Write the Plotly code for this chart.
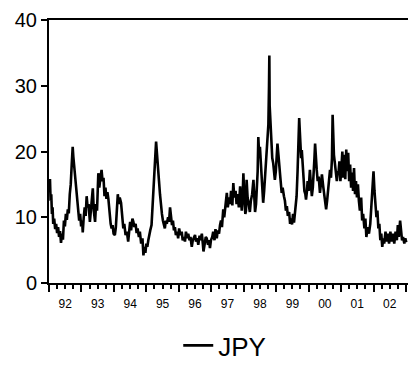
import plotly.graph_objects as go

series_name = "JPY"
year_labels = ["92", "93", "94", "95", "96", "97", "98", "99", "00", "01", "02"]
label_years = [1992.5 + i for i in range(11)]
year_bounds = [1992 + i for i in range(12)]
y_ticks = [0, 10, 20, 30, 40]

dates = [
1992.00,1992.02,1992.03,1992.05,1992.07,1992.09,1992.11,1992.13,1992.16,1992.19,1992.22,1992.25,1992.28,1992.31,1992.34,1992.37,1992.40,1992.43,1992.46,1992.49,
1992.52,1992.55,1992.58,1992.61,1992.64,1992.67,1992.70,1992.73,1992.75,1992.78,1992.81,1992.84,1992.87,1992.90,1992.93,1992.96,1992.99,
1993.02,1993.04,1993.07,1993.10,1993.13,1993.16,1993.19,1993.22,1993.26,1993.29,1993.32,1993.35,1993.38,1993.42,1993.45,1993.48,1993.52,1993.55,1993.58,1993.62,
1993.65,1993.68,1993.71,1993.74,1993.77,1993.80,1993.83,1993.86,1993.90,1993.93,1993.96,1993.99,
1994.03,1994.06,1994.09,1994.12,1994.15,1994.18,1994.22,1994.25,1994.29,1994.32,1994.36,1994.40,1994.44,1994.47,1994.50,1994.53,1994.57,1994.60,1994.63,1994.67,
1994.70,1994.73,1994.77,1994.80,1994.84,1994.88,1994.91,1994.94,1994.97,
1995.00,1995.03,1995.06,1995.09,1995.12,1995.16,1995.19,1995.22,1995.25,1995.28,1995.30,1995.33,1995.36,1995.39,1995.42,1995.45,1995.48,1995.51,1995.54,1995.57,
1995.60,1995.63,1995.67,1995.70,1995.73,1995.76,1995.79,1995.82,1995.85,1995.88,1995.91,1995.95,1995.98,
1996.01,1996.05,1996.09,1996.12,1996.16,1996.19,1996.22,1996.26,1996.29,1996.33,1996.36,1996.40,1996.43,1996.46,1996.50,1996.53,1996.57,1996.60,1996.64,1996.67,
1996.71,1996.74,1996.76,1996.80,1996.83,1996.86,1996.90,1996.93,1996.96,1996.99,
1997.03,1997.06,1997.10,1997.13,1997.17,1997.20,1997.24,1997.27,1997.30,1997.33,1997.37,1997.40,1997.44,1997.48,1997.51,1997.55,1997.58,1997.61,1997.65,1997.68,
1997.71,1997.75,1997.78,1997.81,1997.85,1997.89,1997.92,1997.94,1997.97,1997.99,
1998.02,1998.05,1998.07,1998.09,1998.12,1998.16,1998.19,1998.22,1998.26,1998.30,1998.33,1998.35,1998.38,1998.41,1998.43,1998.45,1998.48,1998.50,1998.53,1998.55,
1998.58,1998.60,1998.63,1998.66,1998.69,1998.71,1998.74,1998.76,1998.78,1998.79,1998.80,1998.82,1998.84,1998.86,1998.88,1998.91,1998.93,1998.96,1998.99,
1999.02,1999.04,1999.07,1999.10,1999.13,1999.17,1999.20,1999.24,1999.27,1999.30,1999.33,1999.36,1999.40,1999.43,1999.46,1999.49,1999.52,1999.55,1999.58,1999.61,
1999.63,1999.66,1999.68,1999.71,1999.73,1999.75,1999.77,1999.79,1999.82,1999.84,1999.87,1999.90,1999.92,1999.95,1999.97,
2000.00,2000.04,2000.07,2000.10,2000.13,2000.16,2000.18,2000.20,2000.23,2000.25,2000.28,2000.31,2000.35,2000.38,2000.41,2000.45,2000.48,2000.51,2000.54,2000.57,
2000.60,2000.63,2000.66,2000.69,2000.72,2000.74,2000.76,2000.78,2000.81,2000.84,2000.87,2000.90,2000.92,2000.95,2000.98,
2001.01,2001.04,2001.07,2001.10,2001.13,2001.16,2001.19,2001.22,2001.25,2001.28,2001.31,2001.34,2001.37,2001.40,2001.43,2001.46,2001.49,2001.52,2001.55,2001.58,
2001.62,2001.65,2001.68,2001.72,2001.75,2001.78,2001.82,2001.86,2001.90,2001.94,2001.97,
2002.00,2002.03,2002.06,2002.09,2002.12,2002.15,2002.18,2002.21,2002.24,2002.27,2002.30,2002.33,2002.37,2002.40,2002.44,2002.48,2002.52,2002.56,2002.60,2002.64,
2002.68,2002.72,2002.75,2002.78,2002.82,2002.85,2002.88,2002.91,2002.95,2002.98,2003.01,
]

jpy = [
15.5,13.8,15.8,12.5,13.5,10.5,11.5,9.0,9.8,8.2,9.0,7.6,8.5,7.0,7.9,6.1,7.5,6.6,9.5,8.6,
10.5,9.6,11.2,10.6,13.5,15.0,18.0,20.7,19.2,17.5,16.0,14.5,12.8,11.2,9.5,10.5,8.6,
9.5,7.7,10.0,11.5,10.2,13.2,11.5,12.0,9.3,11.0,12.5,14.4,11.0,9.3,12.0,11.0,16.7,14.5,15.8,17.2,
15.5,16.0,13.2,14.5,12.8,13.8,12.8,11.0,9.0,8.3,8.8,7.5,
7.3,8.5,11.0,13.5,12.0,13.0,12.2,10.5,8.3,9.0,7.3,7.8,6.3,7.8,9.3,8.0,9.8,9.3,8.5,9.0,
7.6,8.3,7.0,7.8,6.0,6.8,4.2,5.5,4.6,
6.0,5.5,6.5,7.5,8.0,8.8,11.5,13.5,15.5,19.0,21.5,19.5,18.0,15.5,13.5,11.7,10.5,9.5,8.8,8.3,
9.5,9.0,10.0,9.3,11.5,9.5,8.8,9.5,8.0,8.5,7.3,7.8,6.8,
8.3,7.3,7.8,6.5,7.0,6.3,7.8,6.8,7.5,6.5,7.0,5.5,6.5,7.0,7.3,6.3,6.8,5.8,7.2,6.5,
7.5,6.0,4.8,6.0,7.0,6.8,5.8,6.5,5.3,6.5,
7.0,7.8,6.5,8.2,6.8,8.0,7.5,8.8,9.5,8.5,11.2,10.0,12.5,13.7,11.5,13.0,12.0,14.0,11.8,15.2,
13.0,14.0,12.0,13.5,11.5,14.7,12.5,11.0,13.5,16.7,
13.0,10.5,11.0,15.7,13.0,11.5,10.8,12.5,13.5,15.7,13.0,10.8,12.0,14.5,17.0,22.2,19.0,20.7,18.0,17.0,
14.0,12.2,14.0,16.2,18.0,19.2,21.5,24.1,30.0,34.6,27.0,24.6,22.0,20.7,19.0,18.2,16.5,15.7,17.0,
19.0,21.2,19.5,18.2,16.0,13.7,14.5,13.2,12.5,11.0,11.7,10.2,10.8,9.0,9.8,8.9,10.5,9.2,10.5,12.0,
13.2,17.0,22.2,25.1,23.0,21.0,19.0,20.2,17.5,15.7,14.0,13.5,12.7,14.0,15.5,
14.0,17.2,15.0,13.2,14.5,16.5,19.0,21.2,18.0,17.2,15.5,16.2,13.7,15.5,16.5,14.7,13.5,12.5,11.2,12.5,
13.8,15.0,17.2,16.0,19.0,25.6,22.0,19.5,18.2,16.5,15.5,17.0,16.7,18.5,15.5,
17.5,20.0,16.0,19.5,15.8,20.3,17.0,19.8,15.5,18.0,14.5,16.8,14.0,17.5,13.5,15.5,13.0,15.0,12.5,11.0,
13.0,9.5,10.5,8.3,9.8,7.0,8.5,7.5,9.0,12.0,14.5,
17.0,14.0,12.5,10.0,11.0,8.3,9.0,6.5,7.5,5.5,6.8,6.0,7.8,6.3,7.5,6.0,7.8,6.3,7.5,6.0,
7.8,6.5,8.8,7.0,9.5,7.5,6.5,7.0,6.0,6.8,6.2,
]

FONT = "Liberation Sans, Arial, sans-serif"
x_range = [1992.0, 2003.063]

fig = go.Figure()
fig.add_trace(go.Scatter(x=dates, y=jpy, mode="lines", name=series_name,
                         line=dict(color="black", width=2.6), xaxis="x", yaxis="y"))
# transparent copy to carry the overlay tick axis
fig.add_trace(go.Scatter(x=dates, y=jpy, mode="lines", showlegend=False, hoverinfo="skip",
                         line=dict(color="rgba(0,0,0,0)", width=0), xaxis="x2", yaxis="y"))

fig.update_layout(
    width=408, height=369,
    margin=dict(l=49, r=0, t=20, b=80),
    paper_bgcolor="white", plot_bgcolor="white",
    font=dict(family=FONT, color="black"),
    showlegend=True,
    legend=dict(orientation="h", x=0.36, xanchor="left", y=-0.238, yanchor="middle",
                font=dict(size=26, family=FONT, color="black"), bgcolor="rgba(0,0,0,0)"),
    xaxis=dict(range=x_range, tickmode="array", tickvals=label_years, ticktext=year_labels,
               ticks="outside", ticklen=9, tickcolor="rgba(0,0,0,0)",
               tickfont=dict(size=12, family=FONT, color="black"),
               showline=True, linecolor="black", linewidth=2, mirror=True,
               showgrid=False, zeroline=False),
    xaxis2=dict(range=x_range, overlaying="x", anchor="y", side="bottom",
                tickmode="array", tickvals=year_bounds, showticklabels=False,
                ticks="outside", ticklen=8, tickwidth=1.5, tickcolor="black",
                minor=dict(dtick=0.25, tick0=1992, ticks="outside", ticklen=5,
                           tickwidth=1.5, tickcolor="black", showgrid=False),
                showline=False, showgrid=False, zeroline=False),
    yaxis=dict(range=[0, 40], tickmode="array", tickvals=y_ticks,
               ticks="outside", ticklen=6, tickwidth=1.5, tickcolor="black",
               tickfont=dict(size=20, family=FONT, color="black"),
               showline=True, linecolor="black", linewidth=2,
               showgrid=False, zeroline=False),
)

fig.write_html("out.html")
